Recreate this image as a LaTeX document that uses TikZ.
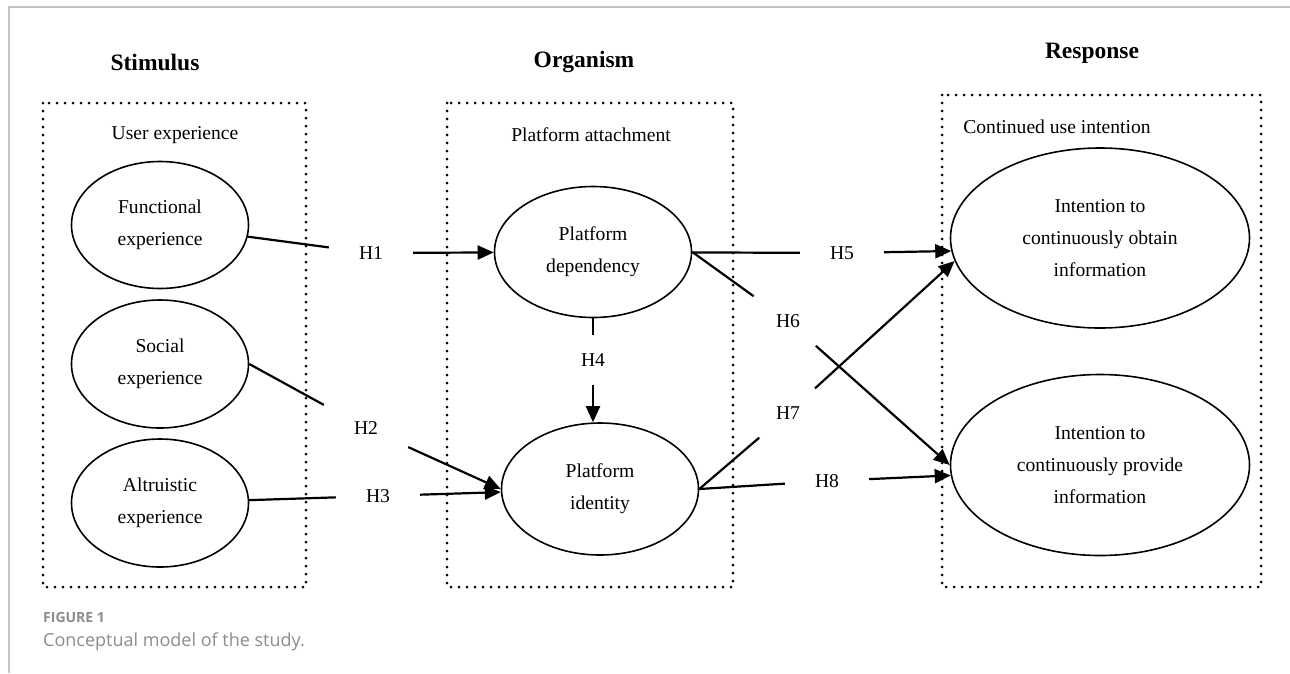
\documentclass[tikz,border=0pt]{standalone}
\usepackage{fontspec}
\setmainfont{Liberation Serif}
\newfontfamily\capfont{Open Sans}
\usetikzlibrary{arrows.meta, shapes.geometric}
\definecolor{capgrey}{HTML}{8C8C8C}
\definecolor{framegrey}{HTML}{C4C4C4}

\begin{document}
\begin{tikzpicture}[x=1pt, y=-1pt,
	>={Triangle[length=16pt,width=14pt]},
	construct/.style={ellipse, draw, line width=1.6pt, inner sep=0pt, align=center, font=\fontsize{19.6}{32}\selectfont},
	hyp/.style={inner xsep=30pt, inner ysep=18pt, font=\fontsize{19.6}{24}\selectfont},
	link/.style={line width=2.2pt},
	dotbox/.style={line width=3pt, line cap=round, dash pattern=on 0pt off 8pt},
	stage/.style={font=\bfseries\fontsize{23.5}{28}\selectfont},
	group/.style={font=\fontsize{19.6}{24}\selectfont}]

	\useasboundingbox (0,0) rectangle (1290,673);
	\draw [framegrey, line width=1.5pt] (9,673) -- (9,7) -- (1290,7);

	\node at (155,62) [stage] (stim) {Stimulus};
	\node at (584,62) [stage] (org) {Organism};
	\node at (1092,53) [stage] (resp) {Response};

	\draw [dotbox] (43,103) rectangle (306,587);
	\draw [dotbox] (447,103) rectangle (733,587);
	\draw [dotbox] (942,95) rectangle (1261,587);

	\node at (175,135) [group] (ux) {User experience};
	\node at (591,135) [group] (pa) {Platform attachment};
	\node at (1057,127) [group] (cui) {Continued use intention};

	\node at (160,225) [construct, minimum width=177pt, minimum height=127pt] (fe) {Functional\\experience};
	\node at (160,364) [construct, minimum width=177pt, minimum height=128pt] (se) {Social\\experience};
	\node at (160,503) [construct, minimum width=177pt, minimum height=128pt] (ae) {Altruistic\\experience};
	\node at (593,252) [construct, minimum width=197pt, minimum height=131pt] (pd) {Platform\\dependency};
	\node at (600,489) [construct, minimum width=197pt, minimum height=132pt] (pi) {Platform\\identity};
	\node at (1100,238) [construct, minimum width=299pt, minimum height=180pt] (io) {Intention to\\continuously obtain\\information};
	\node at (1100,465) [construct, minimum width=299pt, minimum height=181pt] (ip) {Intention to\\continuously provide\\information};

	\node at (371,253) [hyp] (h1) {H1};
	\node at (366,428) [hyp] (h2) {H2};
	\node at (378,496) [hyp] (h3) {H3};
	\node at (593,360) [hyp] (h4) {H4};
	\node at (842,253) [hyp] (h5) {H5};
	\node at (788,321) [hyp] (h6) {H6};
	\node at (788,413) [hyp] (h7) {H7};
	\node at (827,481) [hyp] (h8) {H8};

	\draw [link] (fe) -- (h1);
	\draw [link, ->] (h1) -- (pd);
	\draw [link] (se.east) -- (h2);
	\draw [link, ->] (h2) -- (pi.west);
	\draw [link] (ae) -- (h3);
	\draw [link, ->] (h3) -- (pi);
	\draw [link] (pd.south) -- (h4);
	\draw [link, ->] (h4) -- (pi.north -| h4);
	\draw [link] (pd) -- (h5);
	\draw [link, ->] (h5) -- (io.185);
	\draw [link] (pd.east) -- (h6);
	\draw [link, ->] (h6) -- (ip.west);
	\draw [link] (pi.east) -- (h7);
	\draw [link, ->] (h7) -- (io.189.5);
	\draw [link] (pi.east) -- (h8);
	\draw [link, ->] (h8) -- (ip.184);

	\node at (43,622) [anchor=base west, inner sep=0pt, text=capgrey, font=\capfont\bfseries\fontsize{14}{17}\selectfont] (fig) {FIGURE 1};
	\node at (43,646) [anchor=base west, inner sep=0pt, text=capgrey, font=\capfont\fontsize{18}{22}\selectfont] (cap) {Conceptual model of the study.};

\end{tikzpicture}
\end{document}
